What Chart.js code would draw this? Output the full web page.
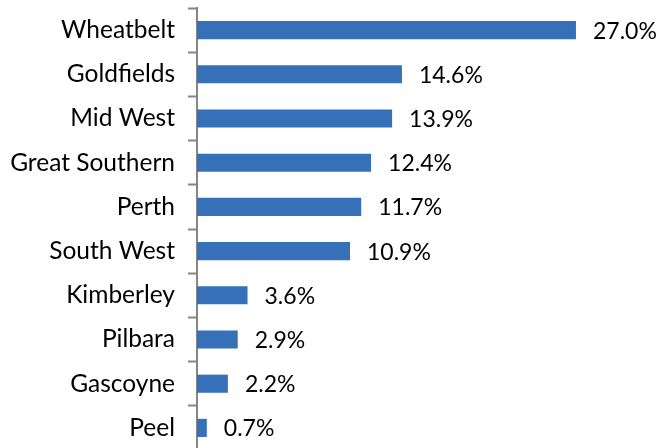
<!DOCTYPE html>
<html>
<head>
<meta charset="utf-8">
<script src="https://cdn.jsdelivr.net/npm/chart.js@4/dist/chart.umd.min.js"></script>
<style>
  html, body { margin: 0; padding: 0; background: #ffffff; }
  #wrap { width: 663px; height: 448px; overflow: hidden; position: relative; }
  canvas { display: block; }
</style>
</head>
<body>
<div id="wrap"><canvas id="c" width="663" height="452"></canvas></div>
<script>
// Regions of Western Australia and their share (%)
const regions = ['Wheatbelt', 'Goldfields', 'Mid West', 'Great Southern', 'Perth',
                 'South West', 'Kimberley', 'Pilbara', 'Gascoyne', 'Peel'];
const shares = [27.0, 14.6, 13.9, 12.4, 11.7, 10.9, 3.6, 2.9, 2.2, 0.7];
const shareLabels = ['27.0%', '14.6%', '13.9%', '12.4%', '11.7%',
                     '10.9%', '3.6%', '2.9%', '2.2%', '0.7%'];

const FONT = 'Lato, "Open Sans", sans-serif';

// vertical gradient per bar, lighter on top
function barFill(context) {
  const chart = context.chart;
  const el = context.element;
  if (!el || el.y === undefined || !isFinite(el.y)) return '#3570b8';
  const h = el.height || 18;
  const top = el.y - h / 2, bottom = el.y + h / 2;
  const g = chart.ctx.createLinearGradient(0, top, 0, bottom);
  g.addColorStop(0, '#3f7ec9');
  g.addColorStop(0.45, '#3870ba');
  g.addColorStop(1, '#2c5890');
  return g;
}

// value text at the end of each bar
const valueLabels = {
  id: 'valueLabels',
  afterDatasetsDraw(chart) {
    const ctx = chart.ctx;
    const meta = chart.getDatasetMeta(0);
    ctx.save();
    ctx.font = '23px ' + FONT;
    ctx.fillStyle = '#000000';
    ctx.textAlign = 'left';
    ctx.textBaseline = 'middle';
    meta.data.forEach((bar, i) => {
      ctx.fillText(shareLabels[i], bar.x + 17, bar.y + 1);
    });
    ctx.restore();
  }
};

new Chart(document.getElementById('c'), {
  type: 'bar',
  data: {
    labels: regions,
    datasets: [{
      data: shares,
      backgroundColor: barFill,
      borderWidth: 0,
      categoryPercentage: 1.0,
      barPercentage: 0.41
    }]
  },
  options: {
    indexAxis: 'y',
    responsive: false,
    animation: false,
    events: [],
    layout: { padding: { top: 8, right: 0, bottom: 2, left: 0 } },
    plugins: { legend: { display: false }, tooltip: { enabled: false } },
    scales: {
      x: { display: false, min: 0, max: 33.2 },
      y: {
        z: 1,
        afterFit(scale) {
          scale.width = 197;
          scale.paddingTop = 0;
          scale.paddingBottom = 0;
        },
        border: { display: true, color: '#868686', width: 2 },
        grid: {
          drawOnChartArea: false,
          drawTicks: true,
          tickLength: 9,
          tickWidth: 2,
          color: '#868686'
        },
        ticks: {
          color: '#000000',
          padding: 13,
          font: { family: FONT, size: 24.5 }
        }
      }
    }
  },
  plugins: [valueLabels]
});
</script>
</body>
</html>
